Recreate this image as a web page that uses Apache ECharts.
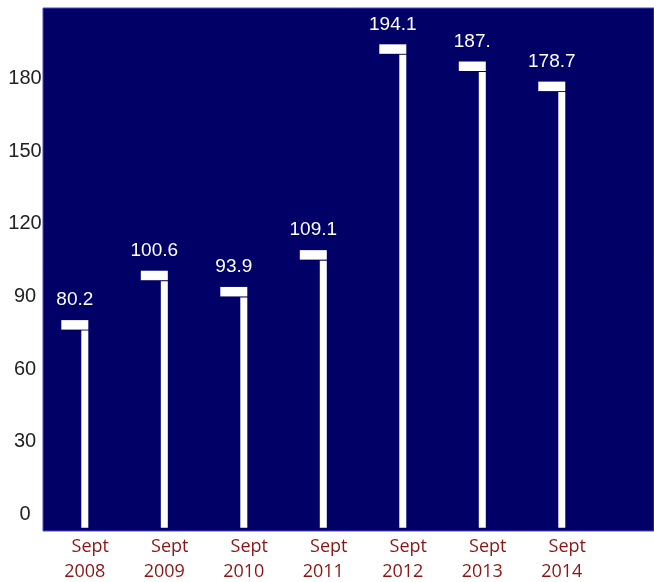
<!DOCTYPE html>
<html>
<head>
<meta charset="utf-8">
<script src="https://cdn.jsdelivr.net/npm/echarts@6/dist/echarts.min.js"></script>
<style>
  html, body { margin: 0; padding: 0; background: #ffffff; }
  #chart { width: 654px; height: 582px; }
</style>
</head>
<body>
<div id="chart"></div>
<script>
const months = ['Sept', 'Sept', 'Sept', 'Sept', 'Sept', 'Sept', 'Sept'];
const years = ['2008', '2009', '2010', '2011', '2012', '2013', '2014'];
const values = [80.2, 100.6, 93.9, 109.1, 194.1, 187.0, 178.7];
const valueLabels = ['80.2', '100.6', '93.9', '109.1', '194.1', '187.', '178.7'];
const yTicks = [0, 30, 60, 90, 120, 150, 180];

const STEM_BASE = -5.6;

const chart = echarts.init(document.getElementById('chart'), null, { renderer: 'canvas' });

const seriesData = values.map((v, i) => [i, v]);

chart.setOption({
  animation: false,
  backgroundColor: '#ffffff',
  grid: {
    left: 43, top: 8, right: 0, bottom: 51,
    show: true,
    backgroundColor: '#000066',
    borderColor: '#4a4ac8',
    borderWidth: 1
  },
  xAxis: {
    type: 'value',
    min: -0.526,
    max: 7.16,
    splitLine: { show: false },
    axisLine: { show: false },
    axisTick: { show: false },
    axisLabel: {
      customValues: years.map((_, i) => i),
      margin: 3,
      formatter: (v) => {
        const i = Math.round(v);
        return '{a|' + months[i] + '}\n{b|' + years[i] + '}';
      },
      rich: {
        a: { fontFamily: 'Open Sans', fontSize: 18, color: '#8b1515', lineHeight: 25, padding: [0, 0, 0, 11] },
        b: { fontFamily: 'Open Sans', fontSize: 18, color: '#8b1515', lineHeight: 25 }
      }
    }
  },
  yAxis: {
    type: 'value',
    min: -6.9,
    max: 209.1,
    splitLine: { show: false },
    axisLine: { show: false },
    axisTick: { show: false },
    axisLabel: {
      customValues: yTicks,
      align: 'center',
      margin: 18,
      fontFamily: 'Liberation Sans',
      fontSize: 20,
      color: '#222222'
    }
  },
  series: [{
    type: 'custom',
    data: seriesData,
    clip: false,
    renderItem: (params, api) => {
      const i = api.value(0);
      const v = api.value(1);
      const top = api.coord([i, v]);
      const base = api.coord([i, STEM_BASE]);
      const stemW = 7;
      const flagW = 27;
      const flagH = 9.5;
      const right = top[0] + stemW / 2;
      return {
        type: 'group',
        children: [
          {
            type: 'rect',
            shape: { x: right - flagW, y: top[1], width: flagW, height: flagH },
            style: { fill: '#ffffff' }
          },
          {
            type: 'rect',
            shape: { x: right - stemW, y: top[1] + flagH + 1, width: stemW, height: base[1] - (top[1] + flagH + 1) },
            style: { fill: '#ffffff' }
          },
          {
            type: 'text',
            style: {
              text: valueLabels[params.dataIndex],
              x: right - flagW / 2,
              y: top[1] - 20,
              fill: '#ffffff',
              font: '19px "Liberation Sans"',
              align: 'center',
              verticalAlign: 'middle'
            }
          }
        ]
      };
    }
  }]
});
</script>
</body>
</html>
